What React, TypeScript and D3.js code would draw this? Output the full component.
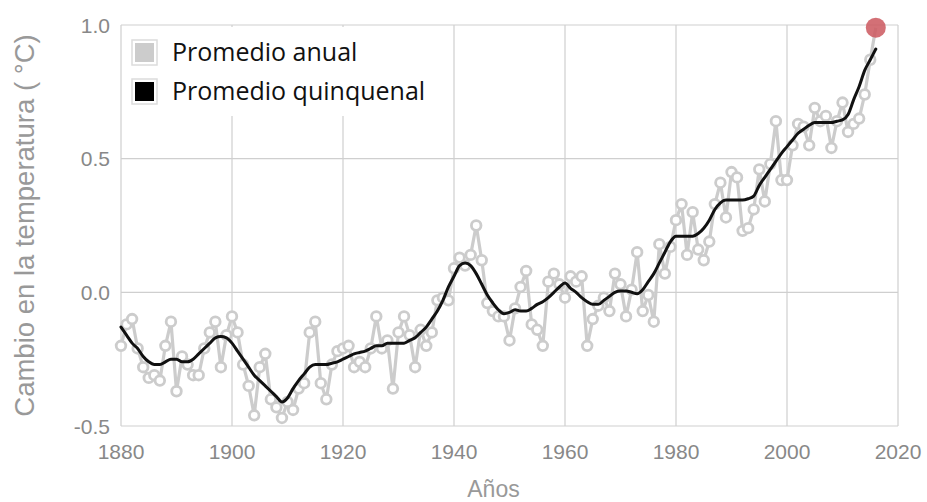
import React from "react";
import * as d3 from "d3";

const startYear = 1880;

const annualMean: number[] = [
  -0.20, -0.12, -0.10, -0.21, -0.28, -0.32, -0.31, -0.33, -0.20, -0.11,
  -0.37, -0.24, -0.27, -0.31, -0.31, -0.21, -0.15, -0.11, -0.28, -0.16,
  -0.09, -0.15, -0.27, -0.35, -0.46, -0.28, -0.23, -0.40, -0.43, -0.47,
  -0.41, -0.44, -0.36, -0.34, -0.15, -0.11, -0.34, -0.40, -0.27, -0.22,
  -0.21, -0.20, -0.28, -0.26, -0.28, -0.21, -0.09, -0.21, -0.18, -0.36,
  -0.15, -0.09, -0.16, -0.28, -0.14, -0.20, -0.15, -0.03, -0.02, -0.03,
  0.09, 0.13, 0.10, 0.14, 0.25, 0.12, -0.04, -0.07, -0.09, -0.09,
  -0.18, -0.06, 0.02, 0.08, -0.12, -0.14, -0.20, 0.04, 0.07, 0.03,
  -0.02, 0.06, 0.04, 0.06, -0.20, -0.10, -0.05, -0.02, -0.07, 0.07,
  0.03, -0.09, 0.01, 0.15, -0.07, -0.01, -0.11, 0.18, 0.07, 0.17,
  0.27, 0.33, 0.14, 0.30, 0.16, 0.12, 0.19, 0.33, 0.41, 0.28,
  0.45, 0.43, 0.23, 0.24, 0.31, 0.46, 0.34, 0.48, 0.64, 0.42,
  0.42, 0.55, 0.63, 0.62, 0.55, 0.69, 0.64, 0.66, 0.54, 0.64,
  0.71, 0.60, 0.63, 0.65, 0.74, 0.87, 0.99,
];

const fiveYearMean: number[] = [
  -0.13, -0.16, -0.19, -0.21, -0.24, -0.26, -0.27, -0.27, -0.26, -0.25,
  -0.25, -0.26, -0.26, -0.25, -0.23, -0.21, -0.19, -0.17, -0.165, -0.17,
  -0.19, -0.22, -0.25, -0.28, -0.31, -0.33, -0.35, -0.37, -0.39, -0.41,
  -0.395, -0.36, -0.33, -0.305, -0.28, -0.27, -0.27, -0.27, -0.265, -0.26,
  -0.25, -0.24, -0.23, -0.225, -0.22, -0.21, -0.20, -0.20, -0.19, -0.19,
  -0.19, -0.19, -0.18, -0.17, -0.15, -0.13, -0.10, -0.07, -0.03, 0.02,
  0.06, 0.10, 0.11, 0.10, 0.07, 0.03, -0.01, -0.04, -0.065, -0.08,
  -0.075, -0.065, -0.07, -0.07, -0.06, -0.045, -0.035, -0.02, 0.0, 0.02,
  0.035, 0.015, 0.0, -0.02, -0.035, -0.045, -0.045, -0.03, -0.015, 0.0,
  0.005, 0.005, 0.0, -0.005, 0.01, 0.04, 0.07, 0.11, 0.15, 0.19,
  0.21, 0.21, 0.21, 0.21, 0.22, 0.24, 0.27, 0.31, 0.335, 0.345,
  0.345, 0.345, 0.345, 0.35, 0.36, 0.40, 0.43, 0.46, 0.49, 0.52,
  0.545, 0.57, 0.595, 0.61, 0.625, 0.635, 0.635, 0.635, 0.635, 0.64,
  0.645, 0.665, 0.72, 0.77, 0.83, 0.87, 0.91,
];

const xTicks: number[] = [1880, 1900, 1920, 1940, 1960, 1980, 2000, 2020];
const yTicks: number[] = [-0.5, 0.0, 0.5, 1.0];
const legendLabels: string[] = ["Promedio anual", "Promedio quinquenal"];
const xLabel = "Años";
const yLabel = "Cambio en la temperatura ( °C)";

type Pt = { year: number; value: number };

export default function App() {
  const W = 927;
  const H = 502;
  const x = d3.scaleLinear().domain([1880, 2020]).range([121, 898]);
  const y = d3.scaleLinear().domain([-0.5, 1.0]).range([426, 25]);

  const annual: Pt[] = annualMean.map((v, i) => ({ year: startYear + i, value: v }));
  const smooth: Pt[] = fiveYearMean.map((v, i) => ({ year: startYear + i, value: v }));

  const lineStraight = d3
    .line<Pt>()
    .x((d) => x(d.year))
    .y((d) => y(d.value));
  const lineSmooth = d3
    .line<Pt>()
    .x((d) => x(d.year))
    .y((d) => y(d.value))
    .curve(d3.curveMonotoneX);

  const last = annual[annual.length - 1];
  const tickFont = "'Liberation Sans', Arial, Helvetica, sans-serif";
  const gridColor = "#cfcfcf";

  return (
    <svg
      width={W}
      height={H}
      style={{ position: "absolute", left: 0, top: 0, background: "#fff" }}
    >
      <rect x={0} y={0} width={W} height={H} fill="#fff" />
      {/* grid */}
      {xTicks.map((t) => (
        <line key={"gx" + t} x1={x(t)} x2={x(t)} y1={y(1.0)} y2={y(-0.5)} stroke={gridColor} strokeWidth={1.2} />
      ))}
      {yTicks.map((t) => (
        <line key={"gy" + t} x1={x(1880)} x2={x(2020)} y1={y(t)} y2={y(t)} stroke={gridColor} strokeWidth={1.2} />
      ))}
      {/* legend background */}
      <rect x={x(1880) + 1} y={y(1.0) + 2} width={320} height={89} fill="#fff" />

      {/* annual series */}
      <path d={lineStraight(annual) || ""} fill="none" stroke="#cccccc" strokeWidth={3.2} />
      {annual.slice(0, -1).map((d) => (
        <circle key={"c" + d.year} cx={x(d.year)} cy={y(d.value)} r={4.8} fill="#fff" stroke="#cccccc" strokeWidth={2.8} />
      ))}

      {/* smooth series */}
      <path d={lineSmooth(smooth) || ""} fill="none" stroke="#111" strokeWidth={3} strokeLinejoin="round" strokeLinecap="round" />

      {/* latest point */}
      <circle cx={x(last.year)} cy={y(last.value)} r={10} fill="#cd5c63" fillOpacity={0.88} />

      {/* y tick labels */}
      {yTicks.map((t) => (
        <text key={"ty" + t} x={110} y={y(t)} dy="0.36em" textAnchor="end" fontFamily={tickFont} fontSize={21} fill="#888">
          {t.toFixed(1)}
        </text>
      ))}
      {/* x tick labels */}
      {xTicks.map((t) => (
        <text key={"tx" + t} x={x(t)} y={459} textAnchor="middle" fontFamily={tickFont} fontSize={21} fill="#888">
          {t}
        </text>
      ))}
      {/* axis titles */}
      <text x={(x(1880) + x(2020)) / 2 - 16} y={497} textAnchor="middle" fontFamily={tickFont} fontSize={23} fill="#999">
        {xLabel}
      </text>
      <text
        transform={`translate(34, ${(y(1.0) + y(-0.5)) / 2}) rotate(-90)`}
        textAnchor="middle"
        fontFamily={tickFont}
        fontSize={27.5}
        fill="#999"
      >
        {yLabel}
      </text>

      {/* legend */}
      {legendLabels.map((lab, i) => {
        const ly = 40 + i * 39;
        return (
          <g key={lab}>
            <rect x={132} y={ly} width={25} height={25} fill="#fff" stroke="#dcdcdc" strokeWidth={1.5} />
            <rect x={135} y={ly + 3} width={19} height={19} fill={i === 0 ? "#cccccc" : "#000"} />
            <text x={172} y={ly + 21} fontFamily="'Open Sans', sans-serif" fontSize={25} fill="#111">
              {lab}
            </text>
          </g>
        );
      })}
    </svg>
  );
}
